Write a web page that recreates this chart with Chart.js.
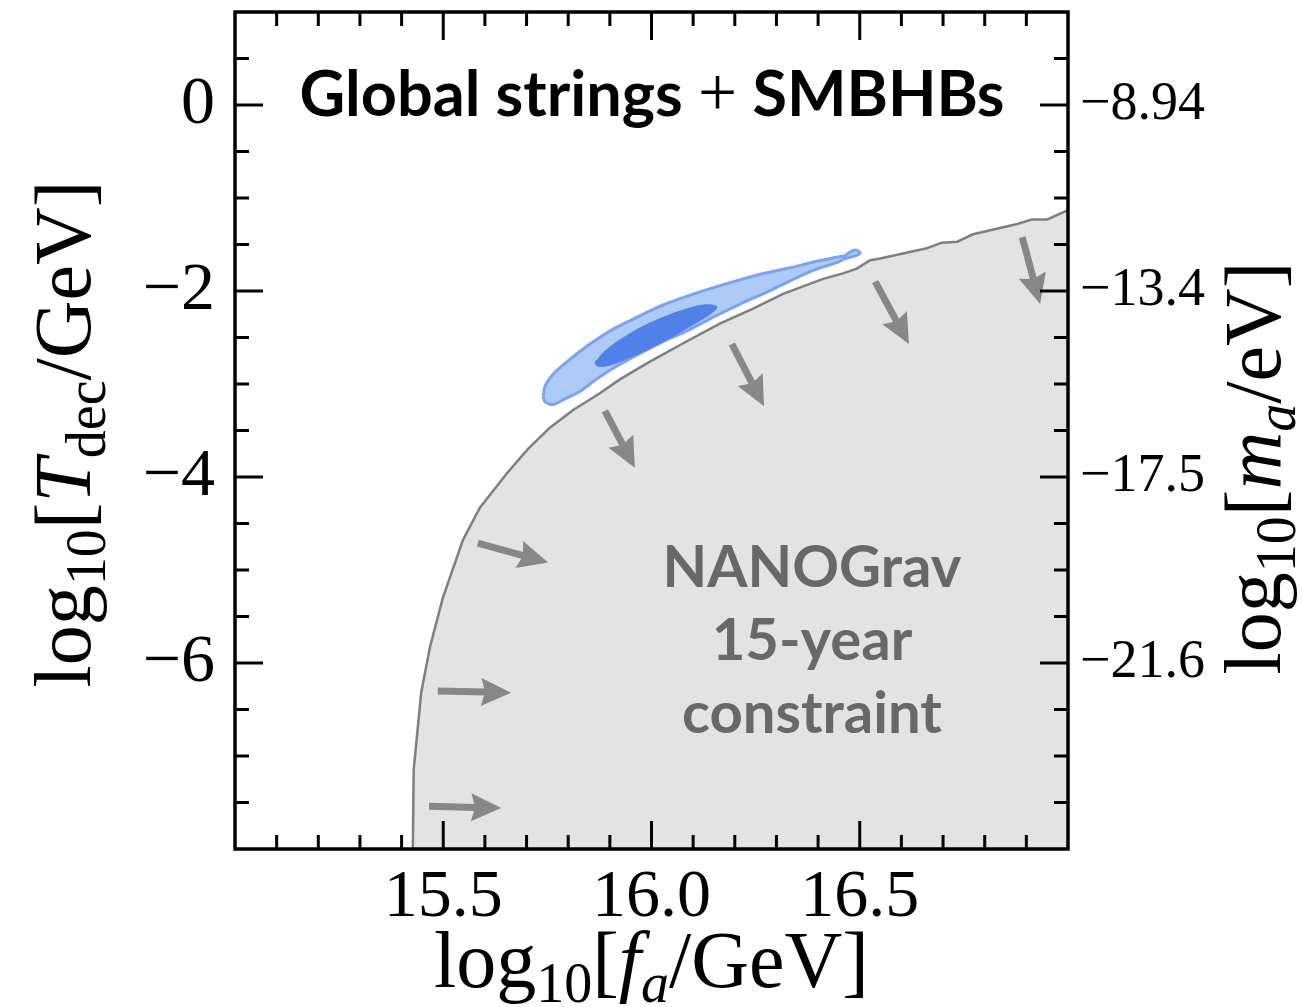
<!DOCTYPE html>
<html>
<head>
<meta charset="utf-8">
<script src="https://cdn.jsdelivr.net/npm/chart.js@4/dist/chart.umd.min.js"></script>
<style>
  html, body { margin: 0; padding: 0; background: #ffffff; }
  #wrap { width: 1302px; height: 1007px; }
</style>
</head>
<body>
<div id="wrap"><canvas id="chart" width="1302" height="1007"></canvas></div>
<script>
// NANOGrav 15-year excluded region: boundary in (log10 fa, log10 Tdec)
const boundaryFa   = [15.427, 15.429, 15.447, 15.468, 15.499, 15.547, 15.588, 15.653, 15.703, 15.756, 15.812, 15.876, 15.924, 15.996, 16.085, 16.164, 16.244, 16.316, 16.412, 16.460, 16.493, 16.525, 16.549, 16.661, 16.697, 16.734, 16.772, 16.878, 16.914, 16.950, 17.000];
const boundaryTdec = [-8.00, -7.15, -6.32, -5.83, -5.30, -4.68, -4.33, -3.96, -3.70, -3.47, -3.28, -3.10, -2.95, -2.76, -2.54, -2.35, -2.19, -2.03, -1.87, -1.81, -1.76, -1.67, -1.65, -1.54, -1.48, -1.47, -1.39, -1.28, -1.23, -1.23, -1.13];

// Global strings + SMBHBs posterior: 95% (outer) and 68% (inner) contours
const outerFa   = [15.740, 15.744, 15.754, 15.771, 15.792, 15.828, 15.869, 15.908, 15.948, 16.028, 16.109, 16.189, 16.261, 16.333, 16.397, 16.441, 16.465, 16.477, 16.491, 16.501, 16.491, 16.467, 16.441, 16.393, 16.333, 16.273, 16.213, 16.153, 16.085, 16.020, 15.960, 15.908, 15.864, 15.828, 15.792, 15.764, 15.744, 15.740];
const outerTdec = [-3.13, -3.03, -2.95, -2.86, -2.78, -2.65, -2.52, -2.41, -2.32, -2.15, -2.02, -1.91, -1.82, -1.75, -1.68, -1.64, -1.62, -1.58, -1.56, -1.59, -1.62, -1.65, -1.70, -1.77, -1.89, -2.02, -2.14, -2.27, -2.43, -2.56, -2.70, -2.83, -2.96, -3.08, -3.16, -3.22, -3.19, -3.13];
const innerFa   = [15.864, 15.890, 15.930, 15.980, 16.030, 16.080, 16.125, 16.157, 16.140, 16.100, 16.050, 16.000, 15.950, 15.905, 15.872, 15.864];
const innerTdec = [-2.77, -2.64, -2.51, -2.38, -2.28, -2.20, -2.15, -2.17, -2.25, -2.36, -2.49, -2.61, -2.71, -2.79, -2.81, -2.77];

// Arrows pointing into the excluded region
const arrowTailFa   = [15.583, 15.487, 15.466, 15.888, 16.193, 16.537, 16.890];
const arrowTailTdec = [-4.71, -6.30, -7.54, -3.29, -2.57, -1.90, -1.42];
const arrowTipFa    = [15.752, 15.663, 15.639, 15.960, 16.270, 16.618, 16.933];
const arrowTipTdec  = [-4.92, -6.32, -7.56, -3.90, -3.24, -2.57, -2.14];

// Axis ticks
const xMinorTicks = [15.1, 15.2, 15.3, 15.4, 15.6, 15.7, 15.8, 15.9, 16.1, 16.2, 16.3, 16.4, 16.6, 16.7, 16.8, 16.9];
const xMajorTicks = [15.5, 16.0, 16.5];
const xTickLabels = ['15.5', '16.0', '16.5'];
const yMinorTicks = [-7.5, -7, -6.5, -5.5, -5, -4.5, -3.5, -3, -2.5, -1.5, -1, -0.5, 0.5];
const yMajorTicks = [-6, -4, -2, 0];
const yTickLabels = ['\u22126', '\u22124', '\u22122', '0'];
const maTickLabels = ['\u221221.6', '\u221217.5', '\u221213.4', '\u22128.94'];

const SERIF = '"Liberation Serif", "DejaVu Serif", serif';
const SANS = 'Lato, "Open Sans", "DejaVu Sans", sans-serif';
const ARROW_GREY = '#878787';

const toPoints = (xs, ys) => xs.map((x, i) => ({ x, y: ys[i] }));

// Text made of runs with their own style, size and vertical shift
function drawRuns(ctx, runs, x, y, size, align) {
  let total = 0;
  const fonts = runs.map(r => `${r.italic ? 'italic ' : ''}${r.weight || 'normal'} ${size * (r.scale || 1)}px ${r.family || SERIF}`);
  const widths = runs.map((r, i) => { ctx.font = fonts[i]; const w = ctx.measureText(r.text).width; total += w; return w; });
  let cx = align === 'center' ? x - total / 2 : x;
  ctx.textAlign = 'left';
  ctx.textBaseline = 'alphabetic';
  runs.forEach((r, i) => {
    ctx.font = fonts[i];
    ctx.fillText(r.text, cx, y + (r.shift || 0) * size);
    cx += widths[i];
  });
}

const overlay = {
  id: 'overlay',
  afterDatasetsDraw(chart) {
    const { ctx } = chart;
    const sx = chart.scales.x, sy = chart.scales.y;
    // arrows
    ctx.save();
    ctx.fillStyle = ARROW_GREY;
    ctx.strokeStyle = ARROW_GREY;
    for (let i = 0; i < arrowTailFa.length; i++) {
      const x0 = sx.getPixelForValue(arrowTailFa[i]), y0 = sy.getPixelForValue(arrowTailTdec[i]);
      const x1 = sx.getPixelForValue(arrowTipFa[i]), y1 = sy.getPixelForValue(arrowTipTdec[i]);
      const ang = Math.atan2(y1 - y0, x1 - x0);
      const c = Math.cos(ang), s = Math.sin(ang);
      const headLen = 30, headHalf = 14;
      const bx = x1 - headLen * c, by = y1 - headLen * s;
      ctx.lineWidth = 7;
      ctx.lineCap = 'butt';
      ctx.beginPath(); ctx.moveTo(x0, y0); ctx.lineTo(bx + 4 * c, by + 4 * s); ctx.stroke();
      ctx.beginPath();
      ctx.moveTo(x1, y1);
      ctx.lineTo(bx + headHalf * s, by - headHalf * c);
      ctx.lineTo(bx + 4 * c, by + 4 * s);
      ctx.lineTo(bx - headHalf * s, by + headHalf * c);
      ctx.closePath();
      ctx.fill();
    }
    // in-panel labels
    ctx.fillStyle = '#000000';
    drawRuns(ctx, [
      { text: 'Global strings ', weight: 'bold', family: SANS },
      { text: '+', family: SERIF, scale: 1.1 },
      { text: ' SMBHBs', weight: 'bold', family: SANS }
    ], 652, 116, 63, 'center');
    ctx.fillStyle = '#686868';
    ctx.textAlign = 'center';
    ctx.font = `bold 58px ${SANS}`;
    ctx.fillText('NANOGrav', 812, 587);
    ctx.fillText('15-year', 812, 660);
    ctx.fillText('constraint', 812, 733);
    ctx.restore();
  },
  afterDraw(chart) {
    const { ctx, chartArea: a } = chart;
    const sx = chart.scales.x, sy = chart.scales.y;
    ctx.save();
    ctx.strokeStyle = '#000000';
    ctx.lineWidth = 3;
    ctx.lineCap = 'butt';
    const tick = (x0, y0, x1, y1) => { ctx.beginPath(); ctx.moveTo(x0, y0); ctx.lineTo(x1, y1); ctx.stroke(); };
    const MAJ = 28, MIN = 14;
    xMinorTicks.concat(xMajorTicks).forEach(v => {
      const len = xMajorTicks.includes(v) ? MAJ : MIN;
      const p = sx.getPixelForValue(v);
      tick(p, a.bottom, p, a.bottom - len);
      tick(p, a.top, p, a.top + len);
    });
    yMinorTicks.concat(yMajorTicks).forEach(v => {
      const len = yMajorTicks.includes(v) ? MAJ : MIN;
      const p = sy.getPixelForValue(v);
      tick(a.left, p, a.left + len, p);
      tick(a.right, p, a.right - len, p);
    });
    ctx.lineWidth = 3.5;
    ctx.strokeRect(a.left, a.top, a.right - a.left, a.bottom - a.top);

    // axis titles
    ctx.fillStyle = '#000000';
    const S = 80;
    drawRuns(ctx, [
      { text: 'log' }, { text: '10', scale: 0.7, shift: 0.19 }, { text: '[' },
      { text: 'f', italic: true }, { text: 'a', italic: true, scale: 0.7, shift: 0.19 },
      { text: '/GeV]' }
    ], (a.left + a.right) / 2, 987, S, 'center');
    ctx.save();
    ctx.translate(90, 434);
    ctx.rotate(-Math.PI / 2);
    drawRuns(ctx, [
      { text: 'log' }, { text: '10', scale: 0.7, shift: 0.19 }, { text: '[' },
      { text: 'T', italic: true }, { text: 'dec', scale: 0.7, shift: 0.19 },
      { text: '/GeV]' }
    ], 0, 0, S, 'center');
    ctx.restore();
    ctx.save();
    ctx.translate(1280, 468);
    ctx.rotate(-Math.PI / 2);
    drawRuns(ctx, [
      { text: 'log' }, { text: '10', scale: 0.7, shift: 0.19 }, { text: '[' },
      { text: 'm', italic: true }, { text: 'a', italic: true, scale: 0.7, shift: 0.19 },
      { text: '/eV]' }
    ], 0, 0, S, 'center');
    ctx.restore();
    ctx.restore();
  }
};

const fixed = (list) => (scale) => { scale.ticks = list.map(v => ({ value: v })); };
const hiddenGrid = { display: false, drawTicks: false, drawOnChartArea: false };

new Chart(document.getElementById('chart'), {
  type: 'scatter',
  data: {
    datasets: [
      {
        label: '68%',
        data: toPoints(innerFa, innerTdec),
        showLine: true,
        fill: 'shape',
        backgroundColor: 'rgb(80,128,232)',
        borderColor: 'rgb(80,128,232)',
        borderWidth: 1,
        tension: 0.35,
        pointRadius: 0
      },
      {
        label: '95%',
        data: toPoints(outerFa, outerTdec),
        showLine: true,
        fill: 'shape',
        backgroundColor: 'rgb(174,202,246)',
        borderColor: 'rgb(124,162,240)',
        borderWidth: 3,
        tension: 0.3,
        pointRadius: 0
      },
      {
        label: 'NANOGrav 15-year constraint',
        data: toPoints(boundaryFa, boundaryTdec),
        showLine: true,
        fill: 'start',
        backgroundColor: '#e3e3e3',
        borderColor: '#7f7f7f',
        borderWidth: 2.5,
        tension: 0,
        pointRadius: 0
      }
    ]
  },
  options: {
    responsive: false,
    animation: false,
    layout: { padding: { top: 12, left: 0, right: 0, bottom: 0 } },
    plugins: { legend: { display: false }, tooltip: { enabled: false } },
    scales: {
      x: {
        type: 'linear', position: 'bottom', min: 15, max: 17,
        grid: hiddenGrid, border: { display: false },
        afterBuildTicks: fixed(xMajorTicks),
        afterFit: s => { s.height = 158; s.paddingLeft = 0; s.paddingRight = 0; },
        ticks: {
          autoSkip: false, maxRotation: 0, padding: 8, color: '#000',
          font: { family: SERIF, size: 68 },
          callback: (v, i) => xTickLabels[i]
        }
      },
      y: {
        type: 'linear', position: 'left', min: -8, max: 1,
        grid: hiddenGrid, border: { display: false },
        afterBuildTicks: fixed(yMajorTicks),
        afterFit: s => { s.width = 235; s.paddingTop = 0; s.paddingBottom = 0; },
        ticks: {
          autoSkip: false, padding: 20, color: '#000',
          font: { family: SERIF, size: 68 },
          callback: (v, i) => yTickLabels[i]
        }
      },
      y2: {
        type: 'linear', position: 'right', min: -8, max: 1,
        grid: hiddenGrid, border: { display: false },
        afterBuildTicks: fixed(yMajorTicks),
        afterFit: s => { s.width = 234; s.paddingTop = 0; s.paddingBottom = 0; },
        ticks: {
          autoSkip: false, padding: 12, color: '#000',
          font: { family: SERIF, size: 54 },
          callback: (v, i) => maTickLabels[i]
        }
      }
    }
  },
  plugins: [overlay]
});
</script>
</body>
</html>
